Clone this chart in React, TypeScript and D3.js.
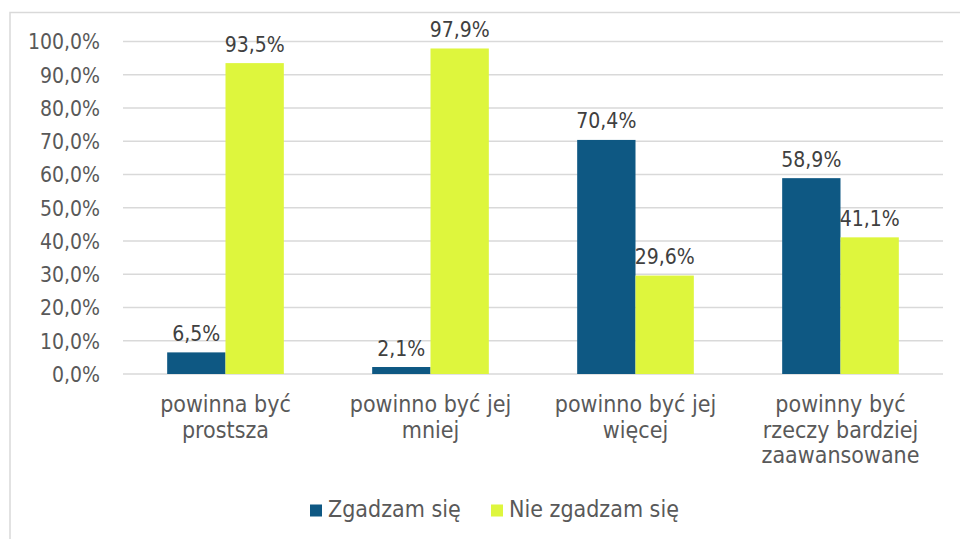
import React from "react";
import * as d3 from "d3";

const categories: string[][] = [
  ["powinna być", "prostsza"],
  ["powinno być jej", "mniej"],
  ["powinno być jej", "więcej"],
  ["powinny być", "rzeczy bardziej", "zaawansowane"],
];
const seriesNames = ["Zgadzam się", "Nie zgadzam się"];
const zgadzam = [6.5, 2.1, 70.4, 58.9];
const nieZgadzam = [93.5, 97.9, 29.6, 41.1];
const yTicks = [0, 10, 20, 30, 40, 50, 60, 70, 80, 90, 100];
const colors = ["#0e5883", "#def63d"];

const W = 960;
const H = 539;
const FONT = "'DejaVu Sans Condensed', 'DejaVu Sans', sans-serif";
const fmt = (v: number) => v.toFixed(1).replace(".", ",") + "%";

export default function App() {
  const plotLeft = 123;
  const plotRight = 943;
  const y = d3.scaleLinear().domain([0, 100]).range([374, 41.5]);
  const x0 = d3
    .scaleBand<number>()
    .domain(categories.map((_, i) => i))
    .range([plotLeft, plotRight])
    .padding(0);
  const groupW = x0.bandwidth() * 0.569;
  const x1 = d3
    .scaleBand<number>()
    .domain([0, 1])
    .range([0, groupW])
    .padding(0);
  const values = [zgadzam, nieZgadzam];

  return (
    <svg
      width={W}
      height={H}
      style={{ position: "absolute", left: 0, top: 0, background: "#fff" }}
      fontFamily={FONT}
    >
      <rect x={10} y={12.5} width={W + 20} height={H + 20} fill="#fff" stroke="#d9d9d9" strokeWidth={1.5} />
      {yTicks.map((t) => (
        <g key={t}>
          <line x1={plotLeft} x2={plotRight} y1={y(t)} y2={y(t)} stroke="#d9d9d9" strokeWidth={1.6} />
          <text
            x={100}
            y={y(t)}
            dy="0.37em"
            textAnchor="end"
            fontSize={21}
            fill="#595959"
            style={{ fontStretch: "condensed" }}
          >
            {fmt(t)}
          </text>
        </g>
      ))}
      {categories.map((cat, i) => {
        const gx = (x0(i) as number) + (x0.bandwidth() - groupW) / 2;
        return (
          <g key={i}>
            {values.map((vals, s) => {
              const bx = gx + (x1(s) as number);
              const v = vals[i];
              return (
                <g key={s}>
                  <rect x={bx} y={y(v)} width={x1.bandwidth()} height={y(0) - y(v)} fill={colors[s]} />
                  <text
                    x={bx + x1.bandwidth() / 2}
                    y={y(v) - 11.5}
                    textAnchor="middle"
                    fontSize={21}
                    fill="#404040"
                    style={{ fontStretch: "condensed" }}
                  >
                    {fmt(v)}
                  </text>
                </g>
              );
            })}
            {cat.map((line, li) => (
              <text
                key={li}
                x={(x0(i) as number) + x0.bandwidth() / 2}
                y={412 + li * 25.7}
                textAnchor="middle"
                fontSize={23}
                fill="#595959"
                style={{ fontStretch: "condensed" }}
              >
                {line}
              </text>
            ))}
          </g>
        );
      })}
      {seriesNames.map((name, s) => {
        const lx = [310, 491][s];
        return (
          <g key={name}>
            <rect x={lx} y={504.5} width={12} height={12} fill={colors[s]} />
            <text x={lx + 18} y={516.5} fontSize={23} fill="#595959" style={{ fontStretch: "condensed" }}>
              {name}
            </text>
          </g>
        );
      })}
    </svg>
  );
}
